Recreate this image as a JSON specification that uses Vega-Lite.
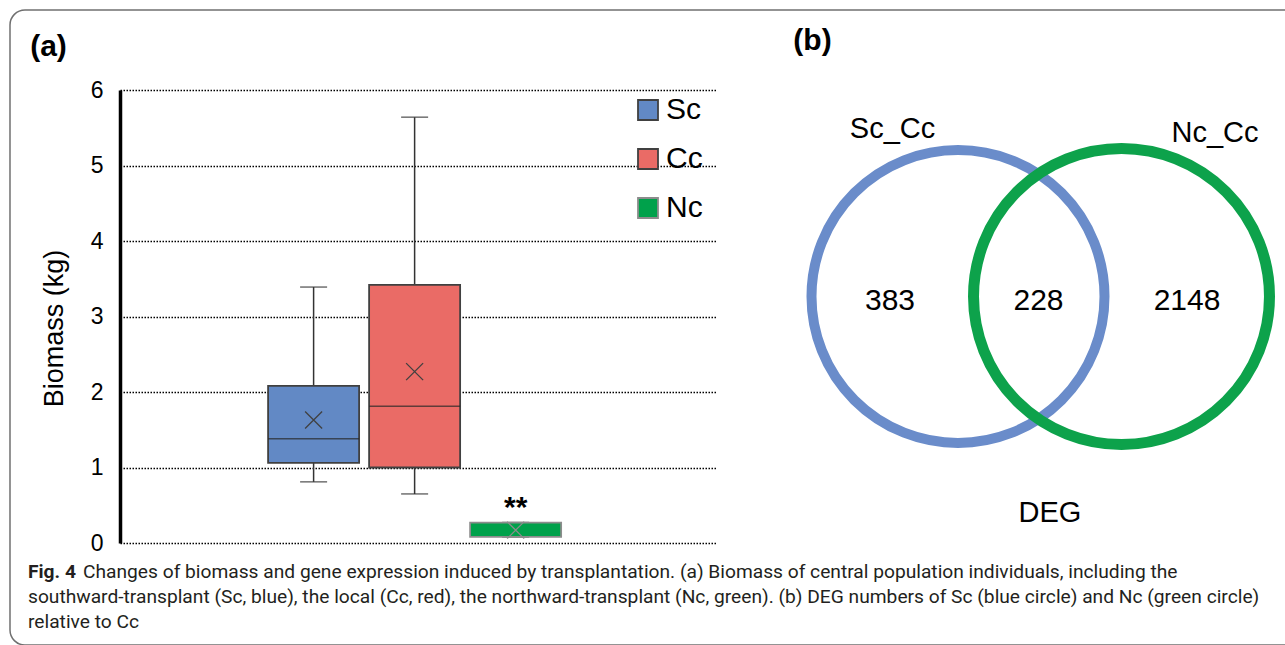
{
  "$schema": "https://vega.github.io/schema/vega-lite/v6.json",
  "width": 1285,
  "height": 645,
  "autosize": {"type": "fit", "contains": "padding"},
  "padding": {"left": 10, "top": 10, "right": -30, "bottom": 0},
  "background": "white",
  "config": {
    "font": "Liberation Sans",
    "view": {"stroke": "#707070", "strokeWidth": 1.5, "cornerRadius": 15}
  },
  "datasets": {
    "biomass": [
      {"population": "central", "group": "Sc", "min": 0.81, "q1": 1.06, "median": 1.38, "q3": 2.08, "max": 3.39, "mean": 1.63, "sig": ""},
      {"population": "central", "group": "Cc", "min": 0.65, "q1": 1.0, "median": 1.81, "q3": 3.42, "max": 5.64, "mean": 2.27, "sig": ""},
      {"population": "central", "group": "Nc", "min": 0.08, "q1": 0.08, "median": null, "q3": 0.27, "max": 0.27, "mean": 0.17, "sig": "**"}
    ],
    "sets": [
      {"set": "Sc_Cc", "diagram": "DEG"},
      {"set": "Nc_Cc", "diagram": "DEG"}
    ],
    "regions": [
      {"region": "Sc_Cc only", "count": 383, "diagram": "DEG"},
      {"region": "Sc_Cc and Nc_Cc", "count": 228, "diagram": "DEG"},
      {"region": "Nc_Cc only", "count": 2148, "diagram": "DEG"}
    ],
    "diagram": [{"diagram": "DEG"}],
    "panels": [{"panel": "(a)"}, {"panel": "(b)"}],
    "caption": [
      {"line": 1, "col": "start", "weight": "bold", "text": "Fig. 4"},
      {"line": 1, "col": "body", "weight": "normal", "text": "Changes of biomass and gene expression induced by transplantation. (a) Biomass of central population individuals, including the"},
      {"line": 2, "col": "start", "weight": "normal", "text": "southward-transplant (Sc, blue), the local (Cc, red), the northward-transplant (Nc, green). (b) DEG numbers of Sc (blue circle) and Nc (green circle)"},
      {"line": 3, "col": "start", "weight": "normal", "text": "relative to Cc"}
    ]
  },
  "layer": [
    {
      "data": {"name": "biomass"},
      "encoding": {
        "x": {"field": "population", "type": "nominal", "scale": {"type": "band", "domain": ["central"], "range": [110, 707], "paddingInner": 0, "paddingOuter": 0.5, "align": 0.487}, "axis": null},
        "xOffset": {"field": "group", "type": "nominal", "scale": {"domain": ["Sc", "Cc", "Nc"], "paddingInner": 0.099, "paddingOuter": 0.027, "align": 0.5}}
      },
      "layer": [
        {
          "mark": {"type": "rule", "color": "#333333", "strokeWidth": 1.5},
          "encoding": {
            "y": {"field": "min", "type": "quantitative", "title": "Biomass (kg)",
              "scale": {"domain": [0, 6], "range": [533, 80], "nice": false, "zero": false},
              "axis": {"values": [0, 1, 2, 3, 4, 5, 6], "format": "d", "offset": -110, "ticks": false, "domain": true, "domainColor": "#000000", "domainWidth": 3.5,
                "labelFontSize": 23, "labelColor": "#000000", "labelPadding": 17, "labelFlush": false, "labelOverlap": false,
                "grid": true, "gridColor": "#000000", "gridDash": [1.5, 1.5], "gridWidth": 1.5, "gridOpacity": 1,
                "titleFontSize": 27, "titleFontWeight": "normal", "titleColor": "#000000", "titlePadding": 22, "titleY": 318}},
            "y2": {"field": "max"}
          }
        },
        {
          "mark": {"type": "tick", "color": "#333333", "size": 27, "thickness": 1.5},
          "encoding": {"y": {"field": "min", "type": "quantitative", "title": "Biomass (kg)"}}
        },
        {
          "mark": {"type": "tick", "color": "#333333", "size": 27, "thickness": 1.5},
          "encoding": {"y": {"field": "max", "type": "quantitative", "title": "Biomass (kg)"}}
        },
        {
          "mark": {"type": "bar", "strokeWidth": 1.8},
          "encoding": {
            "y": {"field": "q1", "type": "quantitative", "title": "Biomass (kg)"},
            "y2": {"field": "q3"},
            "fill": {"field": "group", "type": "nominal",
              "scale": {"domain": ["Sc", "Cc", "Nc"], "range": ["#6289c5", "#ea6b66", "#00a14b"]},
              "legend": {"orient": "none", "legendX": 623, "legendY": 85, "title": null, "symbolType": "square", "symbolSize": 400,
                "labelFontSize": 30, "labelColor": "#000000", "labelOffset": 3, "rowPadding": 19, "padding": 0,
                "symbolStrokeWidth": 1.8, "symbolStrokeColor": "#404040", "symbolOpacity": 1, "labelLimit": 200}},
            "stroke": {"field": "group", "type": "nominal", "scale": {"domain": ["Sc", "Cc", "Nc"], "range": ["#404040", "#404040", "#8c8c8c"]}, "legend": null}
          }
        },
        {
          "mark": {"type": "tick", "color": "#262626", "size": 91, "thickness": 1.5},
          "encoding": {"y": {"field": "median", "type": "quantitative", "title": "Biomass (kg)"}}
        },
        {
          "mark": {"type": "point", "shape": "M-1,-1L1,1M1,-1L-1,1", "size": 289, "filled": false, "strokeWidth": 1.3, "opacity": 1},
          "encoding": {
            "y": {"field": "mean", "type": "quantitative", "title": "Biomass (kg)"},
            "stroke": {"field": "group", "type": "nominal", "scale": {"domain": ["Sc", "Cc", "Nc"], "range": ["#404040", "#404040", "#8c8c8c"]}, "legend": null}
          }
        },
        {
          "mark": {"type": "text", "fontSize": 30, "fontWeight": "bold", "baseline": "alphabetic", "dy": -6, "color": "#000000"},
          "encoding": {
            "y": {"field": "q3", "type": "quantitative", "title": "Biomass (kg)"},
            "text": {"field": "sig"}
          }
        }
      ]
    },
    {
      "data": {"name": "sets"},
      "encoding": {
        "x": {"field": "set", "type": "nominal", "scale": {"type": "point", "domain": ["Sc_Cc", "Nc_Cc"], "range": [948, 1111.5], "padding": 0}, "axis": null},
        "y": {"field": "diagram", "type": "nominal", "scale": {"type": "point", "domain": ["DEG"], "range": [286.5, 286.5], "padding": 0}, "axis": null}
      },
      "layer": [
        {
          "transform": [{"filter": "datum.set === 'Sc_Cc'"}],
          "mark": {"type": "point", "shape": "circle", "filled": false, "size": 85850, "strokeWidth": 10, "opacity": 1, "stroke": "#6a8cca"}
        },
        {
          "transform": [{"filter": "datum.set === 'Nc_Cc'"}],
          "mark": {"type": "point", "shape": "circle", "filled": false, "size": 87600, "strokeWidth": 11, "opacity": 1, "stroke": "#0da24b"}
        }
      ]
    },
    {
      "data": {"name": "sets"},
      "mark": {"type": "text", "fontSize": 29, "baseline": "alphabetic", "align": "center", "color": "#000000"},
      "encoding": {
        "x": {"field": "set", "type": "nominal", "scale": {"type": "point", "domain": ["Sc_Cc", "Nc_Cc"], "range": [882.5, 1205], "padding": 0}, "axis": null},
        "y": {"field": "set", "type": "nominal", "scale": {"type": "point", "domain": ["Sc_Cc", "Nc_Cc"], "range": [128, 132], "padding": 0}, "axis": null},
        "text": {"field": "set"}
      }
    },
    {
      "data": {"name": "regions"},
      "mark": {"type": "text", "fontSize": 30, "baseline": "alphabetic", "align": "center", "color": "#000000"},
      "encoding": {
        "x": {"field": "region", "type": "nominal", "scale": {"type": "point", "domain": ["Sc_Cc only", "Sc_Cc and Nc_Cc", "Nc_Cc only"], "range": [880, 1177], "padding": 0}, "axis": null},
        "y": {"field": "diagram", "type": "nominal", "scale": {"type": "point", "domain": ["DEG"], "range": [300, 300], "padding": 0}, "axis": null},
        "text": {"field": "count"}
      }
    },
    {
      "data": {"name": "diagram"},
      "mark": {"type": "text", "fontSize": 29, "baseline": "alphabetic", "align": "center", "color": "#000000"},
      "encoding": {
        "x": {"field": "diagram", "type": "nominal", "scale": {"type": "point", "domain": ["DEG"], "range": [1040, 1040], "padding": 0}, "axis": null},
        "y": {"field": "diagram", "type": "nominal", "scale": {"type": "point", "domain": ["DEG"], "range": [511.5, 511.5], "padding": 0}, "axis": null},
        "text": {"field": "diagram"}
      }
    },
    {
      "data": {"name": "panels"},
      "mark": {"type": "text", "fontSize": 30, "fontWeight": "bold", "baseline": "alphabetic", "align": "center", "color": "#000000"},
      "encoding": {
        "x": {"field": "panel", "type": "nominal", "scale": {"type": "point", "domain": ["(a)", "(b)"], "range": [38.5, 802.5], "padding": 0}, "axis": null},
        "y": {"field": "panel", "type": "nominal", "scale": {"type": "point", "domain": ["(a)", "(b)"], "range": [45.7, 40.4], "padding": 0}, "axis": null},
        "text": {"field": "panel"}
      }
    },
    {
      "data": {"name": "caption"},
      "encoding": {
        "x": {"field": "col", "type": "nominal", "scale": {"type": "point", "domain": ["start", "body"], "range": [18, 73], "padding": 0}, "axis": null},
        "y": {"field": "line", "type": "ordinal", "scale": {"type": "point", "domain": [1, 2, 3], "range": [568, 618], "padding": 0}, "axis": null},
        "text": {"field": "text"}
      },
      "layer": [
        {
          "transform": [{"filter": "datum.weight === 'bold'"}],
          "mark": {"type": "text", "font": "Roboto", "fontSize": 19.2, "fontWeight": "bold", "align": "left", "baseline": "alphabetic", "color": "#231f20"}
        },
        {
          "transform": [{"filter": "datum.weight === 'normal'"}],
          "mark": {"type": "text", "font": "Roboto", "fontSize": 19.2, "align": "left", "baseline": "alphabetic", "color": "#231f20"}
        }
      ]
    }
  ],
  "resolve": {"scale": {"x": "independent", "y": "independent"}}
}
